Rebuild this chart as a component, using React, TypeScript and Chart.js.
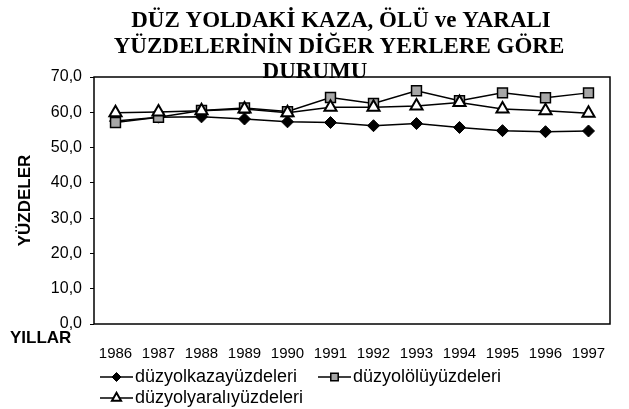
import { useEffect, useRef } from "react";
import { Chart, registerables } from "chart.js";

Chart.register(...registerables);

const years = ["1986", "1987", "1988", "1989", "1990", "1991", "1992", "1993", "1994", "1995", "1996", "1997"];
const kazaValues = [57.5, 58.6, 58.7, 58.1, 57.3, 57.1, 56.2, 56.8, 55.7, 54.8, 54.5, 54.7];
const oluValues = [57.1, 58.6, 60.5, 61.2, 60.2, 64.2, 62.5, 66.1, 63.3, 65.5, 64.1, 65.5];
const yaraliValues = [59.9, 60.1, 60.4, 60.9, 59.9, 61.4, 61.4, 61.8, 62.8, 60.9, 60.4, 59.7];
const seriesLabels = ["düzyolkazayüzdeleri", "düzyolölüyüzdeleri", "düzyolyaralıyüzdeleri"];
const titleLines = ["DÜZ YOLDAKİ KAZA, ÖLÜ ve YARALI", "YÜZDELERİNİN DİĞER YERLERE GÖRE", "DURUMU"];
const yAxisTitle = "YÜZDELER";
const xAxisTitle = "YILLAR";

function drawMarker(ctx: CanvasRenderingContext2D, style: string, x: number, y: number, r: number, fill: string, stroke: string, lw: number) {
  ctx.save();
  ctx.beginPath();
  if (style === "rectRot") {
    ctx.moveTo(x, y - r);
    ctx.lineTo(x + r, y);
    ctx.lineTo(x, y + r);
    ctx.lineTo(x - r, y);
  } else if (style === "rect") {
    const s = Math.SQRT1_2 * r;
    ctx.rect(x - s, y - s, 2 * s, 2 * s);
  } else {
    ctx.moveTo(x, y - r);
    ctx.lineTo(x + r * 0.866, y + r * 0.5);
    ctx.lineTo(x - r * 0.866, y + r * 0.5);
  }
  ctx.closePath();
  ctx.fillStyle = fill;
  ctx.fill();
  ctx.lineWidth = lw;
  ctx.strokeStyle = stroke;
  ctx.stroke();
  ctx.restore();
}

const decorPlugin = {
  id: "decor",
  beforeDatasetsDraw(chart: any) {
    const { ctx, chartArea } = chart;
    ctx.save();
    ctx.strokeStyle = "#000";
    ctx.lineWidth = 1.5;
    ctx.strokeRect(chartArea.left, chartArea.top, chartArea.right - chartArea.left, chartArea.bottom - chartArea.top);
    ctx.restore();
  },
  afterDraw(chart: any) {
    const { ctx } = chart;
    ctx.save();
    // title
    ctx.fillStyle = "#000";
    ctx.font = "bold 23px 'Liberation Serif', 'DejaVu Serif', serif";
    ctx.textAlign = "center";
    ctx.textBaseline = "alphabetic";
    const centers = [341, 339, 315];
    const baselines = [27, 53, 78];
    titleLines.forEach((t, i) => {
      ctx.fillText(t, centers[i], baselines[i]);
    });
    // x axis title
    ctx.font = "bold 17px 'Liberation Sans', Arial, sans-serif";
    ctx.textAlign = "left";
    ctx.textBaseline = "middle";
    ctx.fillText(xAxisTitle, 10, 338);
    // legend
    const pos = [
      [100, 377],
      [318, 377],
      [100, 398],
    ];
    ctx.font = "18px 'Liberation Sans', Arial, sans-serif";
    chart.data.datasets.forEach((ds: any, i: number) => {
      const [x, y] = pos[i];
      ctx.beginPath();
      ctx.strokeStyle = "#000";
      ctx.lineWidth = 1.5;
      ctx.moveTo(x, y);
      ctx.lineTo(x + 33, y);
      ctx.stroke();
      drawMarker(ctx, ds.pointStyle, x + 16.5, y, ds.pointRadius * 0.75, ds.pointBackgroundColor, "#000", ds.pointBorderWidth);
      ctx.fillStyle = "#000";
      ctx.textAlign = "left";
      ctx.textBaseline = "middle";
      ctx.fillText(ds.label, x + 35, y);
    });
    ctx.restore();
  },
};

export default function App() {
  const ref = useRef<HTMLCanvasElement | null>(null);
  useEffect(() => {
    if (!ref.current) return;
    const chart = new Chart(ref.current, {
      type: "line",
      data: {
        labels: years,
        datasets: [
          {
            label: seriesLabels[0],
            data: kazaValues,
            order: 3,
            borderColor: "#000",
            borderWidth: 1.5,
            pointStyle: "rectRot",
            pointRadius: 6,
            pointBackgroundColor: "#000",
            pointBorderColor: "#000",
            pointBorderWidth: 1,
            tension: 0,
          },
          {
            label: seriesLabels[1],
            data: oluValues,
            order: 2,
            borderColor: "#000",
            borderWidth: 1.5,
            pointStyle: "rect",
            pointRadius: 7,
            pointBackgroundColor: "#a6a6a6",
            pointBorderColor: "#000",
            pointBorderWidth: 1.5,
            tension: 0,
          },
          {
            label: seriesLabels[2],
            data: yaraliValues,
            order: 1,
            borderColor: "#000",
            borderWidth: 1.5,
            pointStyle: "triangle",
            pointRadius: 7,
            pointBackgroundColor: "#fff",
            pointBorderColor: "#000",
            pointBorderWidth: 2,
            tension: 0,
          },
        ],
      } as any,
      options: {
        animation: false,
        responsive: false,
        devicePixelRatio: 1,
        layout: { padding: { top: 77, right: 19, bottom: 40, left: 0 } },
        plugins: {
          legend: { display: false },
          title: { display: false },
          tooltip: { enabled: false },
        },
        scales: {
          x: {
            offset: true,
            grid: { display: false },
            border: { display: false },
            ticks: {
              color: "#000",
              font: { family: "'Liberation Sans', Arial, sans-serif", size: 15 },
              padding: 13,
              maxRotation: 0,
              autoSkip: false,
            },
            afterFit: (scale: any) => {
              scale.height = 45;
            },
          },
          y: {
            min: 0,
            max: 70,
            grid: { drawOnChartArea: false, drawTicks: true, tickLength: 4, color: "#000" },
            border: { display: false },
            ticks: {
              stepSize: 10,
              color: "#000",
              padding: 8,
              font: { family: "'Liberation Sans', Arial, sans-serif", size: 16 },
              callback: (v: any) => Number(v).toFixed(1).replace(".", ","),
            },
            title: {
              display: true,
              text: yAxisTitle,
              color: "#000",
              font: { family: "'Liberation Sans', Arial, sans-serif", size: 17, weight: "bold" },
              padding: { top: 15, bottom: 0 },
            },
            afterFit: (scale: any) => {
              scale.width = 94;
            },
          },
        },
      } as any,
      plugins: [decorPlugin],
    });
    return () => chart.destroy();
  }, []);
  return (
    <div style={{ position: "absolute", left: 0, top: 0, width: 629, height: 409, background: "#fff" }}>
      <canvas ref={ref} width={629} height={409} />
    </div>
  );
}
